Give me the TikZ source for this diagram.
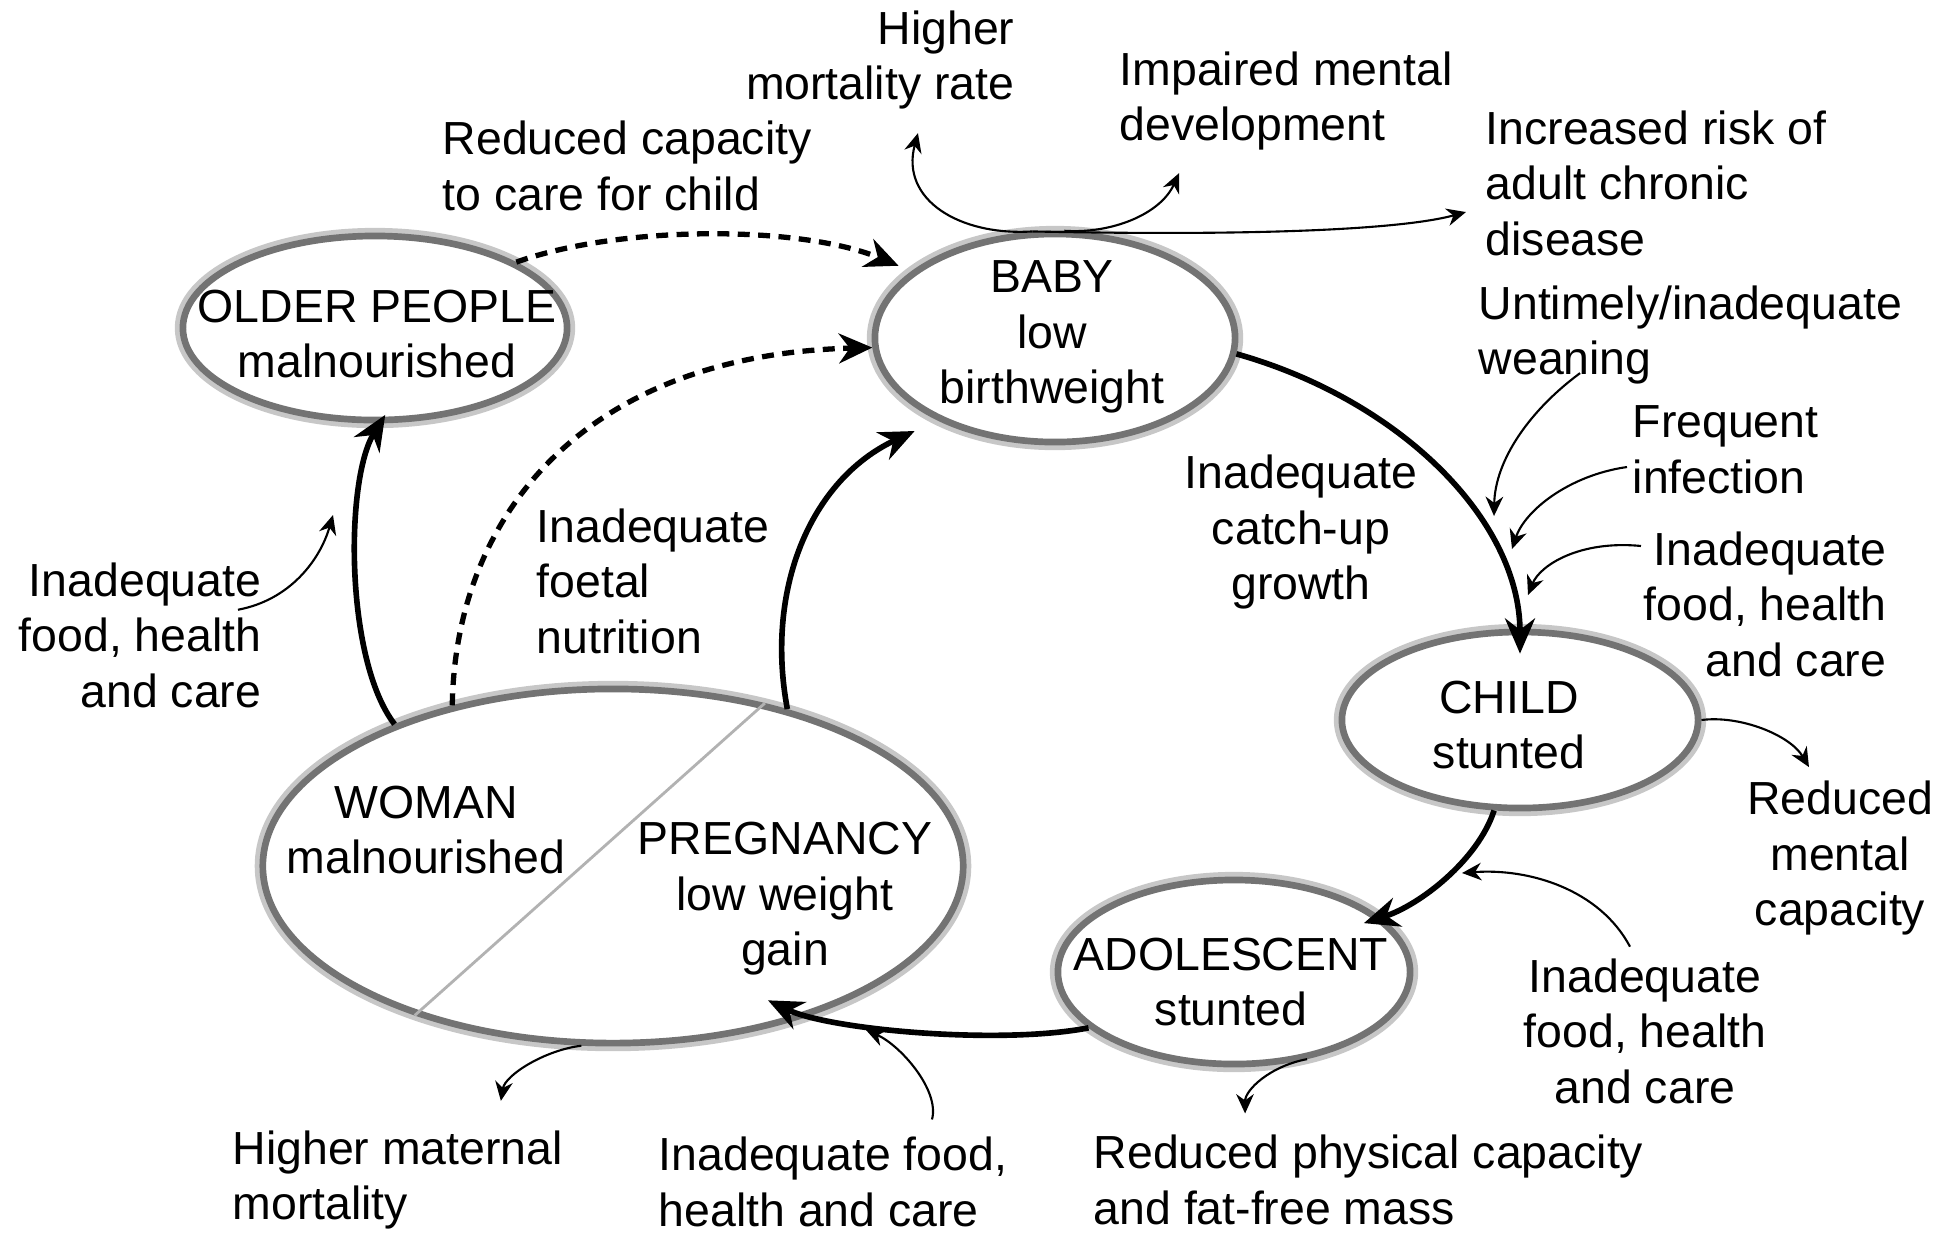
\documentclass[tikz,border=0pt]{standalone}
\usepackage{fontspec}
\setmainfont{Liberation Sans}
\usepackage{tikz}
\usetikzlibrary{arrows.meta}
\usetikzlibrary{positioning, shapes.geometric}
\tikzset{
stage/.style = { ellipse, draw = black!55, line width = 1.9pt, fill = white, inner sep = 0pt, preaction = {draw = black!22, line width = 4.6pt} },
note/.style = { inner sep = 0pt, align = center },
life arrow/.style = { line width = 1.6pt, -{Stealth[length = 10pt, width = 8.5pt]} },
weak arrow/.style = { line width = 1.5pt, dash pattern = on 3.4pt off 2.4pt, -{Stealth[length = 9.5pt, width = 8.5pt]} },
thin arrow/.style = { line width = 0.6pt, -{Stealth[length = 5.5pt, width = 5pt]} },
}

\begin{document}
\begin{tikzpicture}[x = 0.01cm, y = -0.01cm, font = \fontsize{13.2}{15.8}\selectfont]
      \useasboundingbox (0, 0) rectangle (1936, 1238);
      % stages of the cycle
      \node[stage, minimum width = 3.84cm, minimum height = 1.84cm] (older) at (375, 328) {};
      \node[stage, minimum width = 3.6cm, minimum height = 2.08cm] (baby) at (1055, 338) {};
      \node[stage, minimum width = 7cm, minimum height = 3.54cm] (woman) at (613, 866) {};
      \node[stage, minimum width = 3.56cm, minimum height = 1.76cm] (child) at (1520, 720) {};
      \node[stage, minimum width = 3.52cm, minimum height = 1.84cm] (adol) at (1234, 972) {};
      \draw[black!30, line width = 0.8pt] (woman.47) -- (woman.-143);
      \node[note] (oldertxt) at (377, 334) {OLDER PEOPLE\\malnourished};
      \node[note] (babytxt) at (1052, 337) {BABY\\low\\birthweight};
      \node[note] (womantxt) at (426, 830) {WOMAN\\malnourished};
      \node[note] (pregtxt) at (785, 899) {PREGNANCY\\low weight\\gain};
      \node[note] (childtxt) at (1509, 725) {CHILD\\stunted};
      \node[note] (adoltxt) at (1231, 982) {ADOLESCENT\\stunted};
      % causes and consequences
      \node[note, anchor = east, align = right] (mortality) at (1015, 60) {Higher\\mortality rate};
      \node[note, anchor = west, align = left] (impaired) at (1119, 101) {Impaired mental\\development};
      \node[note, anchor = west, align = left] (chronic) at (1485, 183) {Increased risk of\\adult chronic\\disease};
      \node[note, anchor = west, align = left] (carecap) at (442, 166) {Reduced capacity\\to care for child};
      \node[note, anchor = west, align = left] (weaning) at (1478, 335) {Untimely/inadequate\\weaning};
      \node[note, anchor = west, align = left] (infection) at (1632, 450) {Frequent\\infection};
      \node[note, anchor = east, align = right] (foodchild) at (1887, 604) {Inadequate\\food, health\\and care};
      \node[note] (catchup) at (1301, 532) {Inadequate\\catch-up\\growth};
      \node[note, anchor = west, align = left] (foetal) at (536, 581) {Inadequate\\foetal\\nutrition};
      \node[note, anchor = east, align = right] (foodolder) at (262, 635) {Inadequate\\food, health\\and care};
      \node[note] (mentalcap) at (1840, 858) {Reduced\\mental\\capacity};
      \node[note] (foodadol) at (1645, 1031) {Inadequate\\food, health\\and care};
      \node[note, anchor = west, align = left] (maternal) at (232, 1180) {Higher maternal\\mortality};
      \node[note, anchor = west, align = left] (foodpreg) at (658, 1182) {Inadequate food,\\health and care};
      \node[note, anchor = west, align = left] (physical) at (1093, 1180) {Reduced physical capacity\\and fat-free mass};
      % points on the cycle where the side arrows meet it
      \coordinate (weanpt) at (1494, 516);
      \coordinate (infectpt) at (1512, 549);
      \coordinate (foodpt) at (1528, 595);
      \coordinate (childadolpt) at (1462, 873);
      \coordinate (adolpregpt) at (866, 1030);
      \coordinate (olderpt) at (333, 515);
      % the cycle
      \draw[life arrow] (baby.-5) .. controls (1400, 400) and (1520, 520) .. ([yshift = -2.5mm]child.north);
      \draw[life arrow] (child.-106) .. controls (1478, 860) and (1420, 905) .. ([xshift = -0.5mm, yshift = -1.4mm]adol.25);
      \draw[life arrow] (adol.-159) .. controls (1000, 1045) and (830, 1030) .. ([xshift = -1.7mm, yshift = -2.4mm]pregtxt.south);
      \draw[life arrow, shorten >= 2.5mm] (woman.42) .. controls (765, 590) and (810, 480) .. (baby.-145);
      \draw[life arrow, shorten >= -1mm] (woman.147) .. controls (345, 660) and (345, 480) .. (older.-87);
      \draw[weak arrow] (woman.135) .. controls (455, 520) and (580, 355) .. (baby.-177);
      \draw[weak arrow, shorten >= 1.4mm] (older.25) .. controls (620, 225) and (800, 225) .. (baby.155);
      % side arrows
      \draw[thin arrow] (baby.102) .. controls (960, 236) and (900, 200) .. ([xshift = -9.7mm, yshift = -2.3mm]mortality.south east);
      \draw[thin arrow] (baby.85) .. controls (1110, 234) and (1160, 215) .. ([xshift = 6mm, yshift = -2.2mm]impaired.south west);
      \draw[thin arrow] (baby.102) .. controls (1250, 236) and (1400, 230) .. ([xshift = -1.9mm, yshift = -2.9mm]chronic.west);
      \draw[thin arrow] ([xshift = 10.2mm, yshift = 1.2mm]weaning.south west) .. controls (1530, 410) and (1495, 460) .. (weanpt);
      \draw[thin arrow] ([xshift = -0.5mm, yshift = -1.7mm]infection.west) .. controls (1570, 475) and (1525, 510) .. (infectpt);
      \draw[thin arrow] ([xshift = -0.2mm, yshift = 5.8mm]foodchild.west) .. controls (1580, 540) and (1540, 565) .. (foodpt);
      \draw[thin arrow] (child.east) .. controls (1740, 715) and (1790, 735) .. ([xshift = -3.1mm, yshift = 1.3mm]mentalcap.north);
      \draw[thin arrow] ([xshift = -1.5mm, yshift = 1.1mm]foodadol.north) .. controls (1600, 890) and (1530, 868) .. (childadolpt);
      \draw[thin arrow] (adol.-50) .. controls (1270, 1066) and (1245, 1090) .. ([xshift = 15.2mm, yshift = 2.1mm]physical.north west);
      \draw[thin arrow] ([xshift = 9.9mm, yshift = 1.7mm]foodpreg.north) .. controls (940, 1090) and (900, 1045) .. (adolpregpt);
      \draw[thin arrow] (woman.-100) .. controls (545, 1050) and (505, 1075) .. ([xshift = 10.3mm, yshift = 2.9mm]maternal.north);
      \draw[thin arrow] ([xshift = -2.4mm, yshift = -4.8mm]foodolder.north east) .. controls (290, 600) and (320, 560) .. (olderpt);
\end{tikzpicture}
\end{document}
